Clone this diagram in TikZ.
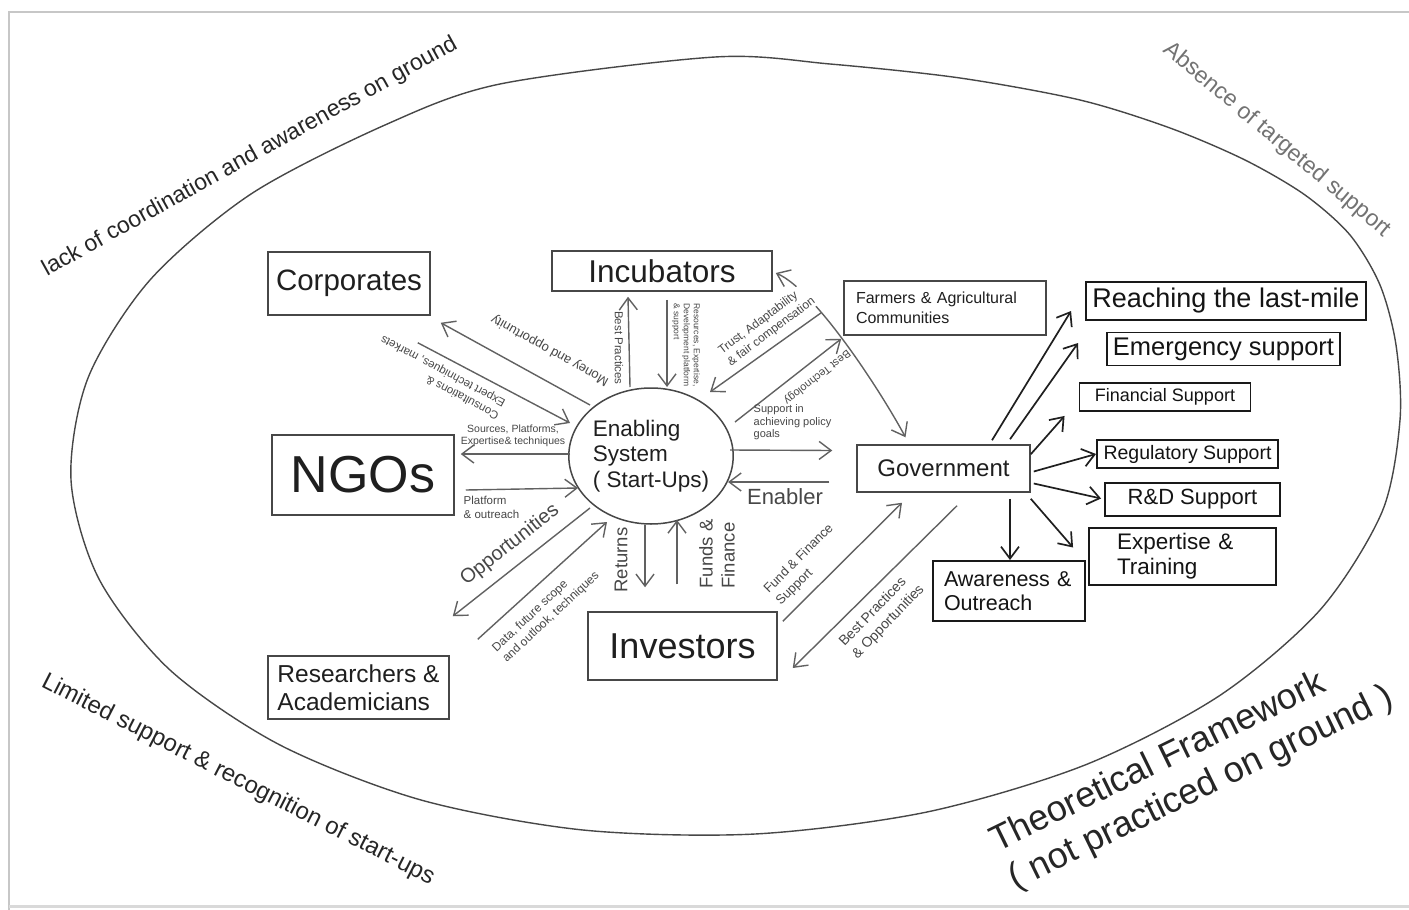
\documentclass[tikz,border=0pt]{standalone}
\usepackage{fontspec}
\setmainfont{Liberation Sans}
\usetikzlibrary{arrows.meta,shapes.geometric}
\newcommand\fsz[2]{\fontsize{#1}{#2}\selectfont}
\begin{document}
\begin{tikzpicture}[x=1pt,y=-1pt,
  box/.style={draw=black!72, line width=1.5pt, inner sep=0pt, text=black!88},
  obox/.style={draw=black!90, line width=1.9pt, inner sep=0pt, text=black!92},
  garr/.style={draw=black!62, line width=1.4pt, -{Straight Barb[length=12pt,width=18pt]}},
  garrb/.style={draw=black!62, line width=1.4pt, {Straight Barb[length=12pt,width=18pt]}-{Straight Barb[length=12pt,width=18pt]}},
  karr/.style={draw=black!88, line width=1.7pt, -{Straight Barb[length=12pt,width=18pt]}},
  lbl/.style={text=black!72, inner sep=0.5pt},
  ctext/.style={text=black!85, inner sep=0pt},
]
\useasboundingbox (0,0) rectangle (1409,910);
\fill[white] (0,0) rectangle (1409,910);
% page frame
\draw[black!22, line width=2.5pt] (9,910) -- (9,12) -- (1409,12);
\draw[black!15, line width=3pt] (9,906) -- (1409,906);
% big oval
\draw[black!72, line width=1.4pt] plot[smooth cycle] coordinates {
 (1400,420) (1396,345) (1380,285) (1350,235) (1305,195) (1245,160) (1170,128) (1080,100)
 (960,78) (830,64) (715,57) (500,84) (385,125) (251,194) (150,280) (88,378) (71,480) (99,579)
 (170,670) (280,745) (421,800) (583,830) (755,834) (927,812) (1085,765)
 (1219,696) (1320,610) (1382,512)};

% corner texts
\node[ctext, rotate=29, font=\fsz{23}{27}] (c1) at (250,157) {lack of coordination and awareness on ground};
\node[ctext, rotate=-40, text=black!55, font=\fsz{23}{27}] (c2) at (1277,140) {Absence of targeted support};
\node[ctext, rotate=-27, font=\fsz{24}{28}] (c3) at (238,780) {Limited support \& recognition of start-ups};
\node[ctext, rotate=26, align=left, font=\fsz{36}{42}] (c4) at (1192,770) {Theoretical Framework\\( not practiced on ground )};

% boxes
\node[box, minimum width=162pt, minimum height=63pt, font=\fsz{29.5}{34}] (corp) at (349,283.5) {Corporates};
\node[box, minimum width=220pt, minimum height=40pt, font=\fsz{31.5}{36}] (inc) at (662,271) {Incubators};
\node[box, minimum width=182pt, minimum height=80pt, font=\fsz{52}{60}] (ngo) at (363,475) {NGOs};
\node[box, minimum width=181pt, minimum height=63pt, align=left, font=\fsz{24.5}{28}] (res) at (358.5,687.5) {Researchers \&\\Academicians};
\node[box, minimum width=189pt, minimum height=68pt, font=\fsz{36}{42}] (inv) at (682.5,646) {Investors};
\node[box, minimum width=202pt, minimum height=54pt, text width=178pt, align=left, font=\fsz{16}{20}] (farm) at (945,308) {Farmers \& Agricultural\\Communities};
\node[box, minimum width=173pt, minimum height=47pt, font=\fsz{24}{28}] (gov) at (943.5,468.5) {Government};
\node[draw=black!72, line width=1.5pt, ellipse, inner sep=0pt, minimum width=158pt, minimum height=136pt, align=left, text=black!88, font=\fsz{22.5}{25.5}] (circ) at (651,456) {Enabling\\System\\( Start-Ups)};

\node[obox, minimum width=280pt, minimum height=38pt, font=\fsz{27}{31}] (reach) at (1226,301) {Reaching the last-mile};
\node[obox, minimum width=233pt, minimum height=33pt, font=\fsz{25.5}{30}] (emerg) at (1223.5,349) {Emergency support};
\node[obox, minimum width=171pt, minimum height=28pt, font=\fsz{18}{21}] (fin) at (1165,397) {Financial Support};
\node[obox, minimum width=181pt, minimum height=28pt, font=\fsz{19.5}{23}] (reg) at (1187.5,454) {Regulatory Support};
\node[obox, minimum width=175pt, minimum height=33pt, font=\fsz{22}{26}] (rd) at (1192.5,499.5) {R\&D Support};
\node[obox, minimum width=187pt, minimum height=57pt, text width=131pt, align=left, font=\fsz{22.5}{25}] (exp) at (1182.5,556.5) {Expertise \&\\Training};
\node[obox, minimum width=152pt, minimum height=60pt, text width=130pt, align=left, font=\fsz{21.5}{24.5}] (aware) at (1009,591) {Awareness \&\\Outreach};

% central connectors
\draw[garr] ([shift={(-61,-51)}]circ.center) -- ([shift={(10,7)}]corp.south east);
\draw[garr] ([shift={(-13,27)}]corp.south east) -- ([shift={(-81,-33)}]circ.center);
\draw[garr] ([shift={(-81,-2)}]circ.center) -- ([shift={(6,-21)}]ngo.east);
\draw[garr] ([shift={(11,15)}]ngo.east) -- ([shift={(-73,32)}]circ.center);
\draw[garr] ([shift={(-61,52)}]circ.center) -- ([shift={(3,-39)}]res.north east);
\draw[garr] ([shift={(28,-16)}]res.north east) -- ([shift={(-44,66)}]circ.center);
\draw[garr] ([shift={(-6,69)}]circ.center) -- ([shift={(-37.5,-24)}]inv.north);
\draw[garr] ([shift={(-5.5,-27)}]inv.north) -- ([shift={(26,64)}]circ.center);
\draw[garr] ([shift={(-21,-69)}]circ.center) -- ([shift={(-34,5)}]inc.south);
\draw[garr] ([shift={(5,8)}]inc.south) -- ([shift={(16,-69)}]circ.center);
\draw[garr] ([shift={(-22,-23)}]farm.south west) -- ([shift={(59,-64)}]circ.center);
\draw[garrb] ([shift={(3,2)}]inc.east) .. controls (815,290) and (880,390) .. ([shift={(-38,-7)}]gov.north);
\draw[garr] ([shift={(84,-34)}]circ.center) -- ([shift={(-2,3)}]farm.south west);
\draw[garr] ([shift={(79,-6)}]circ.center) -- ([shift={(-24,-18)}]gov.west);
\draw[garr] ([shift={(-27,13.5)}]gov.west) -- ([shift={(77,26)}]circ.center);
\draw[garr] ([shift={(5,10)}]inv.north east) -- ([shift={(-41.5,10)}]gov.south);
\draw[garr] ([shift={(13.5,13)}]gov.south) -- ([shift={(15,22)}]inv.east);

% government outputs
\draw[karr] ([shift={(48.5,-4)}]gov.north) -- ([shift={(-14,10)}]reach.west);
\draw[karr] ([shift={(66.5,-5)}]gov.north) -- ([shift={(-28,-6)}]emerg.west);
\draw[karr] ([shift={(0,10)}]gov.north east) -- ([shift={(-14,4)}]fin.south west);
\draw[karr] ([shift={(3,3)}]gov.east) -- (reg.west);
\draw[karr] ([shift={(3,15)}]gov.east) -- ([shift={(-3,-1)}]rd.west);
\draw[karr] ([shift={(0,6)}]gov.south east) -- ([shift={(-15,-9)}]exp.west);
\draw[karr] ([shift={(66.5,6)}]gov.south) -- ([shift={(1,0)}]aware.north);

% connector labels
\node[lbl, rotate=151, font=\fsz{13}{15}] (lmoney) at (550,350) {Money and opportunity};
\node[lbl, rotate=152, align=left, font=\fsz{11.5}{14}] (lcons) at (440,377) {Consultations \&\\Expert techniques, markets};
\node[lbl, align=center, font=\fsz{10.5}{12.5}] (lsrc) at (513,436) {Sources, Platforms,\\Expertise\& techniques};
\node[lbl, anchor=north west, align=left, font=\fsz{11.5}{14}] (lplat) at (463,495) {Platform\\\& outreach};
\node[lbl, rotate=38, font=\fsz{20}{24}] (lopp) at (510,545) {Opportunities};
\node[lbl, rotate=43, align=left, font=\fsz{12}{15}] (ldata) at (546,612) {Data, future scope\\and outlook, techniques};
\node[lbl, rotate=90, font=\fsz{18.5}{22}] (lret) at (621,560) {Returns};
\node[lbl, rotate=90, align=left, font=\fsz{18.5}{22}] (lfund) at (717,554) {Funds \&\\Finance};
\node[lbl, rotate=-90, font=\fsz{11.5}{13}] (lbp) at (619,348) {Best Practices};
\node[lbl, rotate=-90, align=left, font=\fsz{8.5}{10}] (lres) at (686,345) {Resources, Expertise,\\Development platform\\\& support};
\node[lbl, rotate=37, align=left, fill=white, font=\fsz{12}{15}] (ltrust) at (767,326) {Trust, Adaptability\\\& fair compensation};
\node[lbl, rotate=-142, font=\fsz{11}{13}] (lbt) at (817,377) {Best Technology};
\node[lbl, anchor=north west, align=left, font=\fsz{11}{12.5}] (lsup) at (753,404) {Support in\\achieving policy\\goals};
\node[lbl, font=\fsz{22}{26}] (lenab) at (785,497) {Enabler};
\node[lbl, rotate=45, align=left, font=\fsz{13}{17}] (lffs) at (805,565) {Fund \& Finance\\Support};
\node[lbl, rotate=46, align=left, font=\fsz{14}{18}] (lbpo) at (882,616) {Best Practices\\\& Opportunities};
\end{tikzpicture}
\end{document}
